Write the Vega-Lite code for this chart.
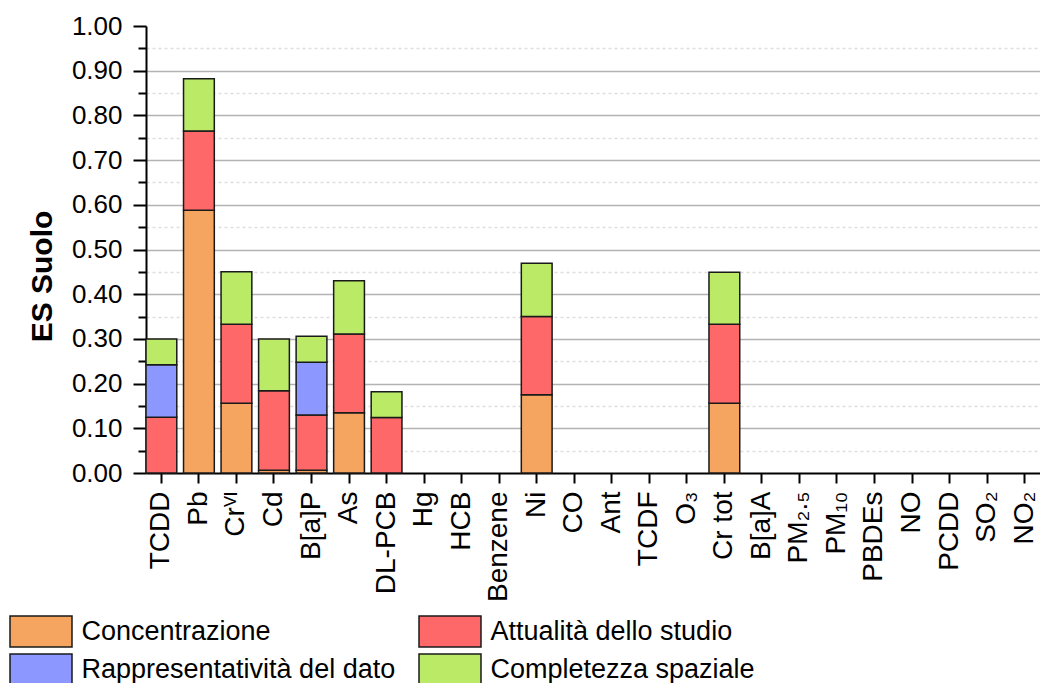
{
  "$schema": "https://vega.github.io/schema/vega-lite/v6.json",
  "autosize": {"type": "none"},
  "width": 894,
  "height": 447,
  "padding": {"left": 146, "top": 26, "right": 0, "bottom": 210},
  "background": "white",
  "config": {"view": {"stroke": null}, "font": "Liberation Sans"},
  "data": {
    "values": [
      {"sostanza": "TCDD", "criterio": "Attualità dello studio", "ordine": 2, "valore": 0.125},
      {"sostanza": "TCDD", "criterio": "Rappresentatività del dato", "ordine": 3, "valore": 0.117},
      {"sostanza": "TCDD", "criterio": "Completezza spaziale", "ordine": 4, "valore": 0.058},
      {"sostanza": "Pb", "criterio": "Concentrazione", "ordine": 1, "valore": 0.588},
      {"sostanza": "Pb", "criterio": "Attualità dello studio", "ordine": 2, "valore": 0.177},
      {"sostanza": "Pb", "criterio": "Completezza spaziale", "ordine": 4, "valore": 0.117},
      {"sostanza": "Crⱽᴵ", "criterio": "Concentrazione", "ordine": 1, "valore": 0.156},
      {"sostanza": "Crⱽᴵ", "criterio": "Attualità dello studio", "ordine": 2, "valore": 0.177},
      {"sostanza": "Crⱽᴵ", "criterio": "Completezza spaziale", "ordine": 4, "valore": 0.117},
      {"sostanza": "Cd", "criterio": "Concentrazione", "ordine": 1, "valore": 0.006},
      {"sostanza": "Cd", "criterio": "Attualità dello studio", "ordine": 2, "valore": 0.178},
      {"sostanza": "Cd", "criterio": "Completezza spaziale", "ordine": 4, "valore": 0.116},
      {"sostanza": "B[a]P", "criterio": "Concentrazione", "ordine": 1, "valore": 0.006},
      {"sostanza": "B[a]P", "criterio": "Attualità dello studio", "ordine": 2, "valore": 0.124},
      {"sostanza": "B[a]P", "criterio": "Rappresentatività del dato", "ordine": 3, "valore": 0.118},
      {"sostanza": "B[a]P", "criterio": "Completezza spaziale", "ordine": 4, "valore": 0.058},
      {"sostanza": "As", "criterio": "Concentrazione", "ordine": 1, "valore": 0.135},
      {"sostanza": "As", "criterio": "Attualità dello studio", "ordine": 2, "valore": 0.176},
      {"sostanza": "As", "criterio": "Completezza spaziale", "ordine": 4, "valore": 0.119},
      {"sostanza": "DL-PCB", "criterio": "Attualità dello studio", "ordine": 2, "valore": 0.124},
      {"sostanza": "DL-PCB", "criterio": "Completezza spaziale", "ordine": 4, "valore": 0.058},
      {"sostanza": "Ni", "criterio": "Concentrazione", "ordine": 1, "valore": 0.175},
      {"sostanza": "Ni", "criterio": "Attualità dello studio", "ordine": 2, "valore": 0.175},
      {"sostanza": "Ni", "criterio": "Completezza spaziale", "ordine": 4, "valore": 0.119},
      {"sostanza": "Cr tot", "criterio": "Concentrazione", "ordine": 1, "valore": 0.156},
      {"sostanza": "Cr tot", "criterio": "Attualità dello studio", "ordine": 2, "valore": 0.177},
      {"sostanza": "Cr tot", "criterio": "Completezza spaziale", "ordine": 4, "valore": 0.116}
    ]
  },
  "mark": {"type": "bar", "stroke": "#1a1a1a", "strokeWidth": 1.5},
  "encoding": {
    "x": {
      "field": "sostanza",
      "type": "nominal",
      "scale": {
        "domain": ["TCDD", "Pb", "Crⱽᴵ", "Cd", "B[a]P", "As", "DL-PCB", "Hg", "HCB", "Benzene", "Ni", "CO", "Ant", "TCDF", "O₃", "Cr tot", "B[a]A", "PM₂.₅", "PM₁₀", "PBDEs", "NO", "PCDD", "SO₂", "NO₂"],
        "paddingInner": 0.18,
        "paddingOuter": 0
      },
      "axis": {
        "title": null,
        "labelAngle": -90,
        "labelFontSize": 28,
        "labelColor": "black",
        "labelPadding": 8,
        "tickSize": 10,
        "tickWidth": 2,
        "tickColor": "black",
        "domainColor": "black",
        "domainWidth": 2,
        "grid": false
      }
    },
    "y": {
      "field": "valore",
      "type": "quantitative",
      "stack": "zero",
      "scale": {"domain": [0, 1], "nice": false},
      "axis": {
        "title": "ES Suolo",
        "titleFontSize": 30,
        "titleFontWeight": "bold",
        "titleColor": "black",
        "titleX": -104,
        "titleY": 250,
        "titleBaseline": "middle",
        "values": [0, 0.05, 0.1, 0.15, 0.2, 0.25, 0.3, 0.35, 0.4, 0.45, 0.5, 0.55, 0.6, 0.65, 0.7, 0.75, 0.8, 0.85, 0.9, 0.95, 1],
        "labelExpr": "round(datum.value*20)%2==0 ? format(datum.value,'.2f') : ''",
        "labelFontSize": 26,
        "labelColor": "black",
        "labelPadding": 11,
        "labelOverlap": false,
        "labelFlush": false,
        "labelBound": false,
        "tickSize": {"condition": {"test": "round(datum.value*20)%2==1", "value": 8}, "value": 13},
        "tickWidth": 2,
        "tickColor": "black",
        "domainColor": "black",
        "domainWidth": 2,
        "grid": true,
        "gridWidth": 1.5,
        "gridColor": {"condition": {"test": "round(datum.value*20)%2==1", "value": "#dedede"}, "value": "#b3b3b3"},
        "gridDash": {"condition": {"test": "round(datum.value*20)%2==1", "value": [3, 3]}, "value": []},
        "gridOpacity": {"condition": {"test": "datum.value<0.01 || datum.value>0.99", "value": 0}, "value": 1}
      }
    },
    "color": {
      "field": "criterio",
      "type": "nominal",
      "scale": {
        "domain": ["Concentrazione", "Rappresentatività del dato", "Attualità dello studio", "Completezza spaziale"],
        "range": ["#F5A560", "#8C98FF", "#FF6868", "#BBEA66"]
      },
      "legend": {
        "orient": "none",
        "legendX": -121.5,
        "legendY": 589,
        "columns": 2,
        "title": null,
        "symbolType": "M-2,-1H2V1H-2Z",
        "symbolSize": 961,
        "symbolStrokeColor": "#1a1a1a",
        "symbolStrokeWidth": 1.5,
        "symbolOpacity": 1,
        "labelFontSize": 27,
        "labelColor": "black",
        "labelOffset": 24,
        "labelLimit": 500,
        "rowPadding": 1,
        "columnPadding": 20,
        "padding": 0,
        "gridAlign": "each"
      }
    },
    "order": {"field": "ordine", "type": "quantitative", "sort": "ascending"}
  }
}
